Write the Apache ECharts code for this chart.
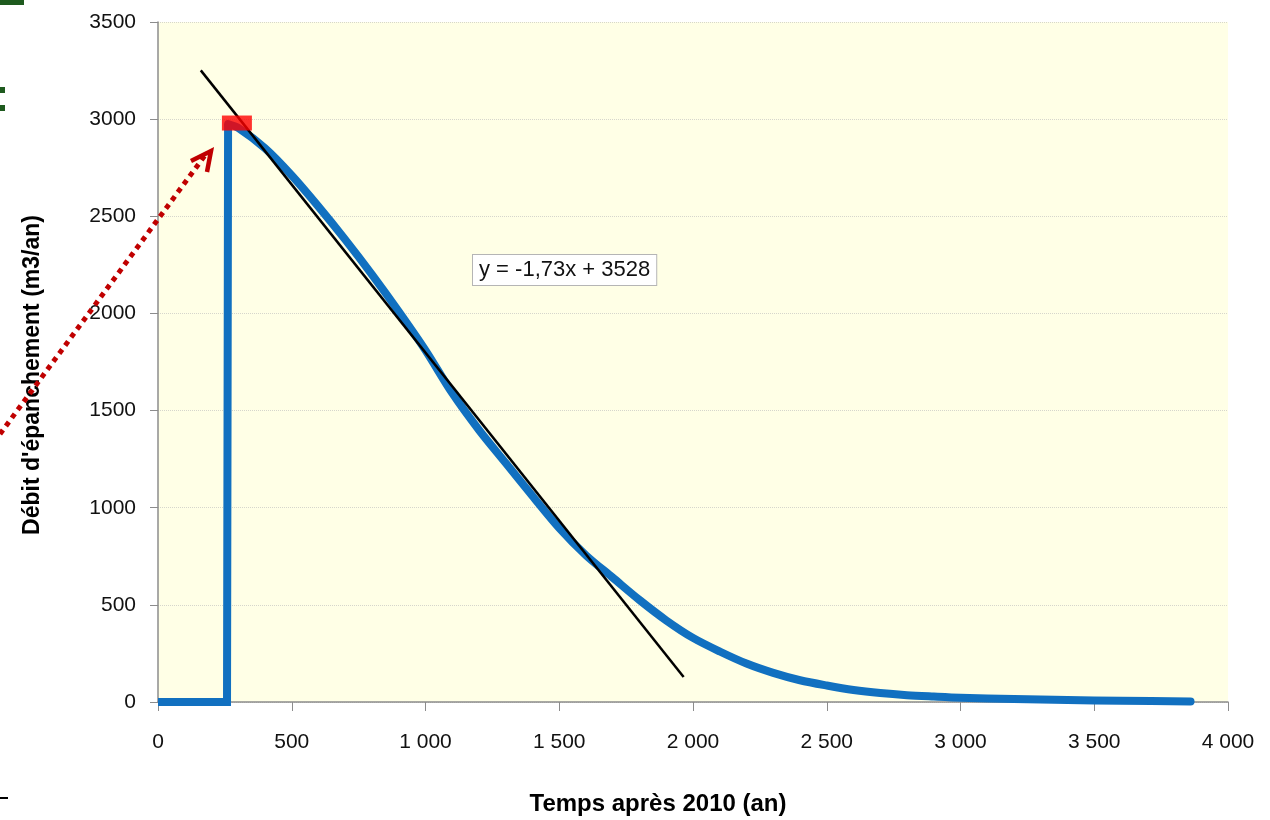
<!DOCTYPE html>
<html>
<head>
<meta charset="utf-8">
<script src="https://cdn.jsdelivr.net/npm/echarts@6/dist/echarts.min.js"></script>
<style>
  html, body { margin: 0; padding: 0; background: #fff; }
  #chart { width: 1270px; height: 820px; }
</style>
</head>
<body>
<div id="chart"></div>
<script>
// Débit d'épanchement en fonction du temps
const flowX = [0, 258, 262, 300, 400, 500, 600, 700, 800, 900, 1000, 1100, 1200, 1300, 1400, 1500, 1600, 1700, 1800, 1900, 2000, 2100, 2200, 2300, 2400, 2500, 2600, 2700, 2800, 2900, 3000, 3200, 3400, 3600, 3860];
const flowY = [0, 0, 2975, 2955, 2850, 2710, 2550, 2380, 2200, 2010, 1810, 1590, 1400, 1230, 1060, 895, 755, 640, 525, 420, 330, 260, 198, 150, 112, 85, 62, 46, 35, 28, 22, 15, 10, 6, 3];

// droite de tendance
const trendX = [160, 1965];
const trendY = [3251, 129];

// point de départ (marqueur rouge)
const startPoint = [295, 2980];

const trendLabel = 'y = -1,73x + 3528';

const fontFam = '"Liberation Sans", Arial, sans-serif';

function spaced(v) {
    return String(v).replace(/\B(?=(\d{3})+(?!\d))/g, ' ');
}

const flowPts = flowX.map((x, i) => [x, flowY[i]]);

const chart = echarts.init(document.getElementById('chart'));

chart.setOption({
    animation: false,
    backgroundColor: '#ffffff',
    grid: {
        left: 158, right: 42, top: 22, bottom: 118,
        outerBoundsMode: 'none',
        show: true, backgroundColor: '#FFFFE6', borderWidth: 0
    },
    xAxis: {
        type: 'value', min: 0, max: 4000, interval: 500,
        name: 'Temps après 2010 (an)',
        nameLocation: 'middle', nameGap: 90,
        nameTextStyle: { fontFamily: fontFam, fontWeight: 'bold', fontSize: 24, color: '#000', padding: [0, 70, 0, 0] },
        axisLine: { lineStyle: { color: '#8c8c8c', width: 1.5 } },
        axisTick: { show: true, length: 9, lineStyle: { color: '#8c8c8c' } },
        axisLabel: { margin: 30, fontFamily: fontFam, fontSize: 21, color: '#111', formatter: spaced },
        splitLine: { show: false }
    },
    yAxis: {
        type: 'value', min: 0, max: 3500, interval: 500,
        name: "Débit d'épanchement (m3/an)",
        nameLocation: 'middle', nameGap: 114, nameRotate: 90,
        nameTextStyle: { fontFamily: fontFam, fontWeight: 'bold', fontSize: 23, color: '#000', padding: [0, 0, 0, -26] },
        axisLine: { show: true, lineStyle: { color: '#8c8c8c', width: 1.5 } },
        axisTick: { show: true, length: 8, lineStyle: { color: '#8c8c8c' } },
        axisLabel: { margin: 22, fontFamily: fontFam, fontSize: 21, color: '#111', formatter: (v) => String(v) },
        splitLine: { show: true, lineStyle: { color: '#d6d6cc', type: 'dotted', width: 1 } }
    },
    series: [
        {
            // palier initial puis saut
            type: 'line',
            data: flowPts.slice(0, 3),
            showSymbol: false,
            lineStyle: { color: '#1170C0', width: 8, join: 'miter', cap: 'butt' },
            z: 2
        },
        {
            // décroissance
            type: 'line',
            data: flowPts.slice(2),
            showSymbol: false,
            smooth: 0.3,
            lineStyle: { color: '#1170C0', width: 8, join: 'round', cap: 'round' },
            z: 2
        },
        {
            type: 'line',
            data: trendX.map((x, i) => [x, trendY[i]]),
            showSymbol: false,
            lineStyle: { color: '#000', width: 2.5 },
            z: 3
        },
        {
            type: 'scatter',
            data: [startPoint],
            symbol: 'rect',
            symbolSize: [30, 15],
            itemStyle: { color: '#FF0000' },
            z: 4
        }
    ],
    graphic: [
        {
            type: 'text', left: 472, top: 254, z: 10,
            style: {
                text: trendLabel, fontFamily: fontFam, fontSize: 22, fill: '#111',
                backgroundColor: '#fff', borderColor: '#b5b5b5', borderWidth: 1,
                padding: [4, 6, 4, 6]
            }
        },
        {
            type: 'polyline', z: 10,
            shape: { points: [[0, 434], [206, 154]] },
            style: { stroke: '#C00000', lineWidth: 5, lineDash: [5, 5], fill: null }
        },
        {
            type: 'polyline', z: 10,
            shape: { points: [[191, 161], [211, 151], [207, 172]] },
            style: { stroke: '#C00000', lineWidth: 4.5, fill: null, lineJoin: 'miter' }
        },
        { type: 'rect', shape: { x: 0, y: 0, width: 24, height: 5 }, style: { fill: '#1E5A1E' } },
        { type: 'rect', shape: { x: 0, y: 87, width: 5, height: 6 }, style: { fill: '#1E5A1E' } },
        { type: 'rect', shape: { x: 0, y: 105, width: 5, height: 6 }, style: { fill: '#1E5A1E' } },
        { type: 'rect', shape: { x: 0, y: 797, width: 8, height: 2 }, style: { fill: '#000' } }
    ]
});
</script>
</body>
</html>
